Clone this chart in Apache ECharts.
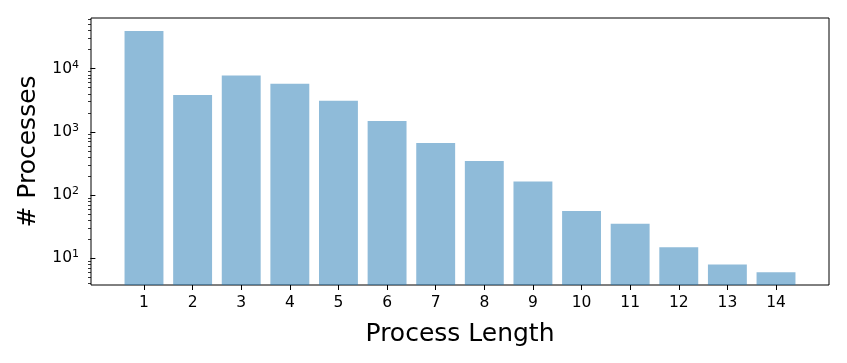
<!DOCTYPE html>
<html>
<head>
<meta charset="utf-8">
<script src="https://cdn.jsdelivr.net/npm/echarts@6/dist/echarts.min.js"></script>
<style>
  html, body { margin: 0; padding: 0; background: #fff; }
  #chart { width: 847px; height: 363px; }
</style>
</head>
<body>
<div id="chart"></div>
<script>
// process length -> number of processes (log scale)
const lengths = [1, 2, 3, 4, 5, 6, 7, 8, 9, 10, 11, 12, 13, 14];
const counts = [39500, 3830, 7800, 5780, 3120, 1490, 664, 346, 163, 55.7, 35.1, 14.9, 7.96, 5.96];
const majorTicks = [10, 100, 1000, 10000];
const minorTicks = [4, 5, 6, 7, 8, 9, 20, 30, 40, 50, 60, 70, 80, 90,
  200, 300, 400, 500, 600, 700, 800, 900, 2000, 3000, 4000, 5000, 6000, 7000, 8000, 9000,
  20000, 30000, 40000, 50000, 60000];

const font = 'DejaVu Sans';
const yMin = 3.76, yMax = 63500;

let chart = echarts.init(document.getElementById('chart'));
chart.setOption({
  animation: false,
  textStyle: { fontFamily: font },
  grid: {
    left: 91, right: 18, top: 18, bottom: 78,
    show: true, borderColor: '#000', borderWidth: 1
  },
  xAxis: {
    type: 'value',
    min: -0.09, max: 15.09,
    name: 'Process Length',
    nameLocation: 'middle',
    nameGap: 37,
    nameTextStyle: { fontSize: 25, color: '#000', fontFamily: font },
    axisLine: { show: false },
    splitLine: { show: false },
    axisTick: { show: true, length: 5, lineStyle: { color: '#000', width: 1 }, customValues: lengths },
    axisLabel: { fontSize: 15.5, color: '#000', margin: 10, customValues: lengths }
  },
  yAxis: [{
    type: 'log',
    min: yMin, max: yMax,
    name: '# Processes',
    nameLocation: 'middle',
    nameGap: 47,
    nameTextStyle: { fontSize: 25, color: '#000', fontFamily: font },
    axisLine: { show: false },
    splitLine: { show: false },
    axisTick: { show: true, length: 5, lineStyle: { color: '#000', width: 1 }, customValues: majorTicks },
    axisLabel: {
      margin: 12,
      customValues: majorTicks,
      formatter: v => '{b|10}{s|' + Math.round(Math.log10(v)) + '}',
      rich: {
        b: { fontSize: 15.5, color: '#000', fontFamily: font },
        s: { fontSize: 11, color: '#000', fontFamily: font, verticalAlign: 'bottom', padding: [0, 0, 8, 0] }
      }
    }
  }, {
    type: 'log',
    position: 'left',
    min: yMin, max: yMax,
    axisLine: { show: false },
    splitLine: { show: false },
    axisLabel: { show: false },
    axisTick: { show: true, length: 3, lineStyle: { color: '#000', width: 0.8 }, customValues: minorTicks }
  }],
  series: [{
    type: 'bar',
    yAxisIndex: 0,
    barWidth: 38.9,
    itemStyle: { color: 'rgba(31,119,180,0.5)' },
    data: lengths.map((x, i) => [x, counts[i]])
  }]
});
</script>
</body>
</html>
